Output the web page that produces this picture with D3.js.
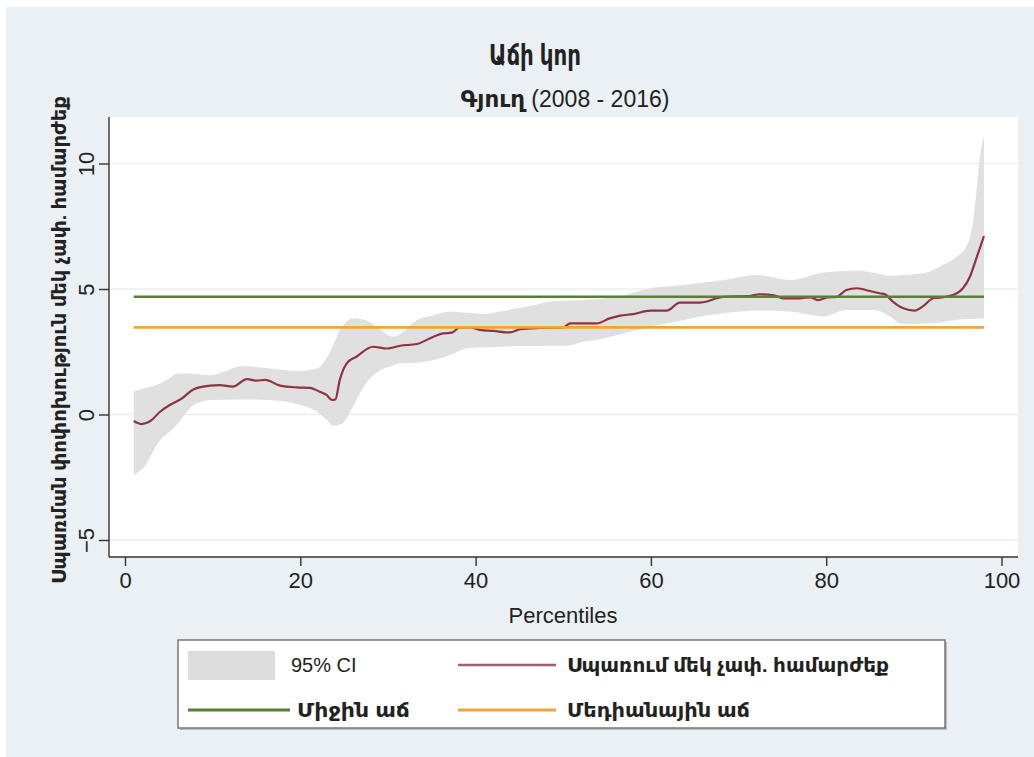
<!DOCTYPE html>
<html>
<head>
<meta charset="utf-8">
<script src="https://cdn.jsdelivr.net/npm/d3@7/dist/d3.min.js"></script>
<style>
  html, body { margin: 0; padding: 0; background: #ffffff; }
  svg { display: block; }
  text { font-family: "Liberation Sans", "DejaVu Sans", Arial, sans-serif; fill: #222; }
</style>
</head>
<body>
<svg id="chart" width="1034" height="757"></svg>
<script>
// ---------------- data ----------------
const titleText = "Աճի կոր";
const subtitleArm = "Գյուղ";
const subtitleYears = " (2008 - 2016)";
const xTitle = "Percentiles";
const yTitle = "Սպառման փոփոխություն մեկ չափ. համարժեք";
const legendLabels = ["95% CI", "Սպառում մեկ չափ. համարժեք", "Միջին աճ", "Մեդիանային աճ"];

const xTicks = [0, 20, 40, 60, 80, 100];
const yTicks = [-5, 0, 5, 10];

// growth incidence curve (percentile, value)
const pctLine = [1, 1.9, 2.9, 4, 5.1, 6.5, 7.8, 9.7, 10.8, 12.3, 13.9, 15, 16, 17.7, 19.6, 21.1, 22.2, 23, 23.6, 24,
  24.5, 25.3, 26.4, 28.3, 29.9, 31.4, 33.3, 35.2, 36.3, 37.3, 38.2, 39.4, 40.5, 42, 43.9, 45.1, 47.3, 50, 50.8, 53.8,
  55.3, 56.5, 58, 59.9, 61.8, 63.3, 65.6, 66.4, 67.5, 68.3, 71.3, 72.4, 74, 75.1, 77, 78.2, 79.1, 80.1, 81.2, 82.3,
  83.5, 85, 86.1, 86.7, 87.6, 88.8, 90.1, 91.1, 92.2, 93.7, 94.9, 95.6, 96.4, 97.2, 98];
const valLine = [-0.26, -0.38, -0.26, 0.11, 0.38, 0.64, 1.0, 1.15, 1.17, 1.11, 1.41, 1.35, 1.38, 1.15, 1.08, 1.06, 0.91, 0.78, 0.58, 0.6,
  1.37, 2.04, 2.3, 2.7, 2.63, 2.74, 2.81, 3.1, 3.23, 3.26, 3.47, 3.47, 3.37, 3.33, 3.27, 3.4, 3.45, 3.47, 3.63, 3.63,
  3.83, 3.94, 4.0, 4.14, 4.14, 4.46, 4.46, 4.5, 4.63, 4.69, 4.72, 4.79, 4.75, 4.63, 4.63, 4.67, 4.56, 4.67, 4.69, 4.96,
  5.03, 4.92, 4.83, 4.79, 4.5, 4.23, 4.14, 4.33, 4.63, 4.69, 4.83, 5.03, 5.49, 6.29, 7.11];

// 95% confidence band
const pctBand = [1, 2.2, 4, 5.1, 5.8, 7.3, 7.8, 9.7, 13.5, 16.5, 19.6, 21.9, 23, 23.8, 24.5, 25, 26, 27.4, 28.9, 30.6,
  31.4, 33.3, 35.2, 37.1, 39.0, 40.9, 42.8, 44.7, 46.6, 48.5, 50.4, 52.3, 54.2, 56.1, 58, 59.9, 61.8, 63.7, 65.6, 68.3,
  72.1, 75.9, 79.7, 82.3, 83.5, 85.4, 87.3, 88.4, 90.3, 91.1, 93.0, 94.9, 96.0, 96.8, 97.6, 98];
const lowBand = [-2.41, -2.08, -1.02, -0.69, -0.45, 0.2, 0.37, 0.58, 0.6, 0.58, 0.42, 0.11, -0.2, -0.46, -0.4, -0.29, 0.31, 1.2, 1.71, 1.95,
  2.04, 2.06, 2.17, 2.37, 2.63, 2.68, 2.7, 2.73, 2.73, 2.74, 2.74, 2.9, 3.0, 3.16, 3.33, 3.5, 3.63, 3.76, 3.9, 4.03,
  4.14, 4.1, 3.9, 4.16, 4.16, 4.16, 3.9, 3.63, 3.6, 3.62, 3.66, 3.76, 3.8, 3.8, 3.82, 3.83];
const highBand = [0.91, 1.05, 1.24, 1.45, 1.61, 1.64, 1.62, 1.56, 1.93, 1.83, 1.73, 1.83, 2.25, 2.8, 3.37, 3.6, 3.83, 3.76, 3.45, 3.1,
  3.2, 3.76, 3.95, 4.1, 4.05, 4.0, 4.1, 4.23, 4.35, 4.5, 4.53, 4.56, 4.6, 4.69, 4.85, 5.03, 5.1, 5.16, 5.25, 5.36,
  5.56, 5.36, 5.66, 5.72, 5.74, 5.65, 5.53, 5.55, 5.6, 5.63, 5.9, 6.29, 6.69, 7.75, 10.4, 11.13];

const meanGrowth = 4.69;
const medianGrowth = 3.47;
const refRange = [1, 98];

// ---------------- layout ----------------
const svg = d3.select("#chart");
const W = 1034, H = 757;
const plot = { left: 109, right: 1018, top: 117, bottom: 557 };

const x = d3.scaleLinear().domain([0, 100]).range([125, 1001.5]);
const y = d3.scaleLinear().domain([0, 10]).range([414.5, 163.5]);

const colors = { band: "#dddddd", line: "#8e3342", mean: "#577f36", median: "#eda53c", bg: "#eaf0f3", grid: "#e9eff2" };

// graph region background
svg.append("rect").attr("x", 6).attr("y", 7).attr("width", W - 6).attr("height", H - 7).attr("fill", colors.bg);
// plot region
svg.append("rect").attr("x", plot.left).attr("y", plot.top)
  .attr("width", plot.right - plot.left).attr("height", plot.bottom - plot.top).attr("fill", "#ffffff");

// gridlines
svg.append("g").selectAll("line").data(yTicks).join("line")
  .attr("x1", plot.left + 1).attr("x2", plot.right)
  .attr("y1", d => y(d)).attr("y2", d => y(d))
  .attr("stroke", colors.grid).attr("stroke-width", 1.6);

// CI band
const bandData = pctBand.map((p, i) => ({ p, lo: lowBand[i], hi: highBand[i] }));
svg.append("path").datum(bandData)
  .attr("d", d3.area().x(d => x(d.p)).y0(d => y(d.lo)).y1(d => y(d.hi)).curve(d3.curveMonotoneX))
  .attr("fill", colors.band).attr("opacity", 0.9);

// curve
const lineData = pctLine.map((p, i) => ({ p, v: valLine[i] }));
svg.append("path").datum(lineData)
  .attr("d", d3.line().x(d => x(d.p)).y(d => y(d.v)).curve(d3.curveMonotoneX))
  .attr("fill", "none").attr("stroke", colors.line).attr("stroke-width", 2.2).attr("stroke-linejoin", "round");

// mean and median lines
[[meanGrowth, colors.mean], [medianGrowth, colors.median]].forEach(([v, c]) => {
  svg.append("path").datum(refRange.map(p => ({ p, v })))
    .attr("d", d3.line().x(d => x(d.p)).y(d => y(d.v)))
    .attr("stroke", c).attr("stroke-width", 2.6).attr("fill", "none");
});

// axes
const axisColor = "#333";
const xAxis = svg.append("g").attr("transform", `translate(0,${plot.bottom})`)
  .call(d3.axisBottom(x).tickValues(xTicks).tickSize(9).tickPadding(6).tickFormat(d3.format("d")));
xAxis.select(".domain").attr("d", `M${plot.left},0H${plot.right}`).attr("stroke", axisColor).attr("stroke-width", 1.4);
xAxis.selectAll(".tick line").attr("stroke", axisColor).attr("stroke-width", 1.4);
xAxis.selectAll(".tick text").attr("font-size", 22).attr("fill", "#222");

const yAxis = svg.append("g").attr("transform", `translate(${plot.left},0)`)
  .call(d3.axisLeft(y).tickValues(yTicks).tickSize(10).tickFormat(d3.format("d")));
yAxis.select(".domain").attr("d", `M0,${plot.top}V${plot.bottom}`).attr("stroke", axisColor).attr("stroke-width", 1.4);
yAxis.selectAll(".tick line").attr("stroke", axisColor).attr("stroke-width", 1.4);
yAxis.selectAll(".tick text")
  .attr("x", null).attr("y", null).attr("dy", null)
  .attr("font-size", 22).attr("fill", "#222")
  .attr("text-anchor", "middle")
  .attr("transform", "translate(-15,0) rotate(-90)");

// axis titles
svg.append("text").attr("x", 563).attr("y", 623).attr("text-anchor", "middle")
  .attr("font-size", 22).text(xTitle);
svg.append("text").attr("transform", "translate(66,340) rotate(-90)").attr("text-anchor", "middle")
  .attr("font-size", 19).attr("font-weight", "bold")
  .attr("textLength", 488).attr("lengthAdjust", "spacingAndGlyphs").text(yTitle);

// titles
svg.append("text").attr("x", 535).attr("y", 65).attr("text-anchor", "middle")
  .attr("font-size", 28).attr("font-weight", "bold").attr("fill", "#1e2a55")
  .attr("textLength", 92).attr("lengthAdjust", "spacingAndGlyphs")
  .text(titleText);
const sub = svg.append("text").attr("x", 565).attr("y", 107).attr("text-anchor", "middle")
  .attr("font-size", 23).attr("fill", "#111");
sub.append("tspan").attr("font-weight", "bold").text(subtitleArm);
sub.append("tspan").text(subtitleYears);

// legend
const lg = svg.append("g");
lg.append("rect").attr("x", 180).attr("y", 642).attr("width", 767).attr("height", 88).attr("fill", "#bbb");
lg.append("rect").attr("x", 178).attr("y", 640).attr("width", 767).attr("height", 88)
  .attr("fill", "#fff").attr("stroke", "#777").attr("stroke-width", 1.5);
const rows = [665, 710];
const col = [188, 458];
lg.append("rect").attr("x", col[0]).attr("y", 651).attr("width", 87).attr("height", 29).attr("fill", colors.band);
lg.append("line").attr("x1", col[1]).attr("x2", col[1] + 98).attr("y1", rows[0]).attr("y2", rows[0])
  .attr("stroke", "#a06070").attr("stroke-width", 2.6);
lg.append("line").attr("x1", col[0]).attr("x2", col[0] + 102).attr("y1", rows[1]).attr("y2", rows[1])
  .attr("stroke", colors.mean).attr("stroke-width", 2.8);
lg.append("line").attr("x1", col[1]).attr("x2", col[1] + 98).attr("y1", rows[1]).attr("y2", rows[1])
  .attr("stroke", colors.median).attr("stroke-width", 2.8);
const legPos = [[291, rows[0], null, false], [567, rows[0], 322, true], [297, rows[1], 113, true], [567, rows[1], 183, true]];
legendLabels.forEach((t, i) => {
  const el = lg.append("text").attr("x", legPos[i][0]).attr("y", legPos[i][1] + 7)
    .attr("font-size", i === 0 ? 20 : 19).text(t);
  if (legPos[i][3]) el.attr("font-weight", "bold");
  if (legPos[i][2]) el.attr("textLength", legPos[i][2]).attr("lengthAdjust", "spacingAndGlyphs");
});
</script>
</body>
</html>
